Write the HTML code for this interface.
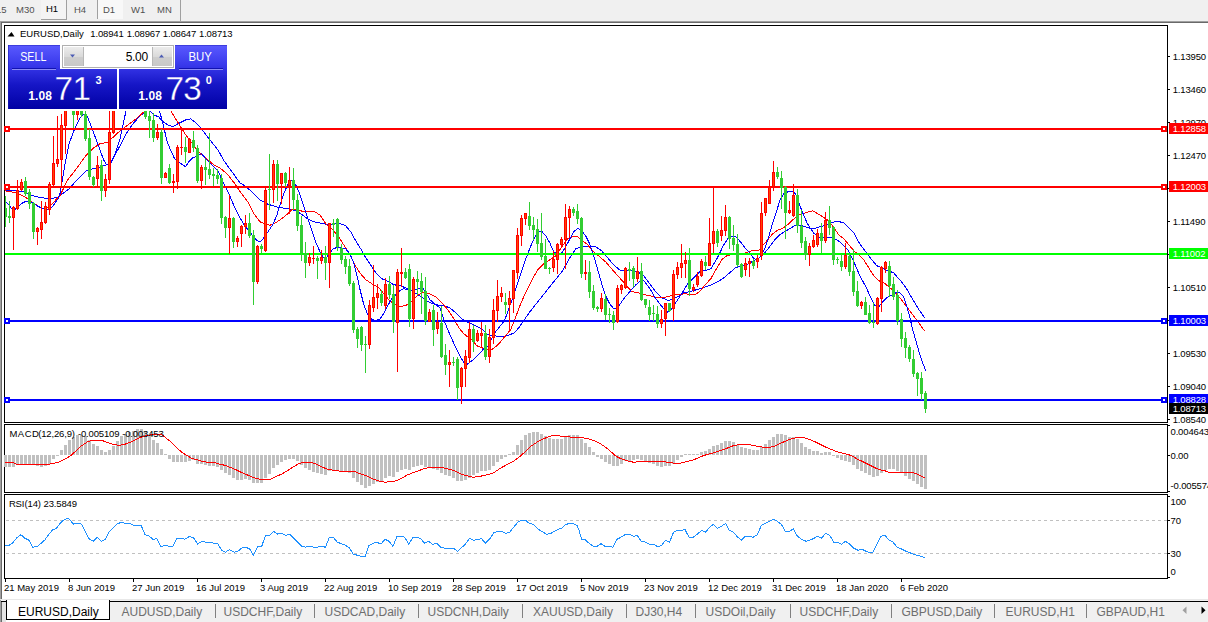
<!DOCTYPE html>
<html><head><meta charset="utf-8"><title>EURUSD,Daily</title>
<style>
html,body{margin:0;padding:0;}
body{width:1208px;height:622px;overflow:hidden;background:#fff;position:relative;font-family:"Liberation Sans",sans-serif;}
#root{position:absolute;left:0;top:0;width:1208px;height:622px;overflow:hidden;background:#fff;}
.abs{position:absolute;}
.t{position:absolute;white-space:nowrap;font-size:9.5px;line-height:12px;color:#000;letter-spacing:-0.15px;}
.tl{letter-spacing:0px;}
.tb{position:absolute;white-space:nowrap;font-size:9.5px;line-height:13px;color:#505050;top:3px;}
.tab{position:absolute;white-space:nowrap;font-size:12px;line-height:16px;color:#6e6e6e;top:604px;}
.sep{position:absolute;top:604px;width:1px;height:14px;background:#808080;}
.pl{position:absolute;left:1169px;width:39px;height:11px;color:#fff;font-size:9.5px;line-height:11px;letter-spacing:-0.15px;white-space:nowrap;overflow:hidden;}
.pl span{position:absolute;left:3.7px;top:0;}
</style></head><body><div id="root">

<div class="abs" style="left:0;top:0;width:1208px;height:21px;background:#f0f0f0;"></div>
<div class="abs" style="left:0;top:21px;width:1208px;height:1px;background:#a0a0a0;"></div>
<div class="abs" style="left:0;top:22px;width:1208px;height:1px;background:#696969;"></div>
<div class="abs" style="left:0;top:21px;width:1px;height:579px;background:#a0a0a0;"></div>
<div class="abs" style="left:1px;top:22px;width:1px;height:578px;background:#696969;"></div>
<div class="abs" style="left:41px;top:0;width:25px;height:19px;background:#f4f4f4;border-right:1px solid #a0a0a0;border-bottom:1px solid #a0a0a0;"></div>
<div class="abs" style="left:97px;top:0;width:1px;height:19px;background:#a0a0a0;"></div>
<div class="abs" style="left:98px;top:0;width:25px;height:19px;background:#f8f8f8;"></div>
<div class="abs" style="left:180px;top:0;width:1px;height:21px;background:#a0a0a0;"></div>
<div class="tb" style="left:-4px;">15</div>
<div class="tb" style="left:16px;">M30</div>
<div class="tb" style="left:46px;top:2px;color:#000;">H1</div>
<div class="tb" style="left:74px;">H4</div>
<div class="tb" style="left:103px;">D1</div>
<div class="tb" style="left:131px;">W1</div>
<div class="tb" style="left:157px;">MN</div>
<svg class="abs" style="left:0;top:0;" width="1208" height="622" viewBox="0 0 1208 622" shape-rendering="crispEdges">
<rect x="4.5" y="25.5" width="1163" height="397" fill="none" stroke="#000" stroke-width="1"/>
<rect x="4.5" y="424.5" width="1163" height="68" fill="none" stroke="#000" stroke-width="1"/>
<rect x="4.5" y="494.5" width="1163" height="84" fill="none" stroke="#000" stroke-width="1"/>
<rect x="1168" y="56" width="2" height="1" fill="#000"/>
<rect x="1168" y="89" width="2" height="1" fill="#000"/>
<rect x="1168" y="122" width="2" height="1" fill="#000"/>
<rect x="1168" y="155" width="2" height="1" fill="#000"/>
<rect x="1168" y="188" width="2" height="1" fill="#000"/>
<rect x="1168" y="221" width="2" height="1" fill="#000"/>
<rect x="1168" y="254" width="2" height="1" fill="#000"/>
<rect x="1168" y="287" width="2" height="1" fill="#000"/>
<rect x="1168" y="320" width="2" height="1" fill="#000"/>
<rect x="1168" y="353" width="2" height="1" fill="#000"/>
<rect x="1168" y="386" width="2" height="1" fill="#000"/>
<rect x="1168" y="419" width="2" height="1" fill="#000"/>
<rect x="1168" y="425" width="2" height="1" fill="#000"/>
<rect x="1168" y="455" width="2" height="1" fill="#000"/>
<rect x="1168" y="491" width="2" height="1" fill="#000"/>
<rect x="1168" y="496" width="2" height="1" fill="#000"/>
<rect x="1168" y="577" width="2" height="1" fill="#000"/>
<rect x="1168" y="520" width="2" height="1" fill="#000"/>
<rect x="1168" y="553" width="2" height="1" fill="#000"/>
<rect x="5" y="579" width="1" height="3" fill="#000"/>
<rect x="69" y="579" width="1" height="3" fill="#000"/>
<rect x="133" y="579" width="1" height="3" fill="#000"/>
<rect x="197" y="579" width="1" height="3" fill="#000"/>
<rect x="261" y="579" width="1" height="3" fill="#000"/>
<rect x="325" y="579" width="1" height="3" fill="#000"/>
<rect x="389" y="579" width="1" height="3" fill="#000"/>
<rect x="453" y="579" width="1" height="3" fill="#000"/>
<rect x="517" y="579" width="1" height="3" fill="#000"/>
<rect x="581" y="579" width="1" height="3" fill="#000"/>
<rect x="645" y="579" width="1" height="3" fill="#000"/>
<rect x="709" y="579" width="1" height="3" fill="#000"/>
<rect x="773" y="579" width="1" height="3" fill="#000"/>
<rect x="837" y="579" width="1" height="3" fill="#000"/>
<rect x="901" y="579" width="1" height="3" fill="#000"/>
<g clip-path="url(#mainclip)">
<defs><clipPath id="mainclip"><rect x="5" y="26" width="1162" height="396"/></clipPath></defs>
<polyline points="5,190.9 17,190.9 25,191.9 33,195.8 41,197.8 49,198.4 57,197.8 60,195.8 69,188.9 77,179.9 86,170.9 89,169.9 100,166.9 108,164.5 112,160.8 115.6,153.8 120,145.8 126,133.9 132,124.9 140,115.9 145,112 149,109.5 153.8,114.9 158.8,116.9 161.8,120.9 167.8,124.9 172.8,126.5 179.7,122.9 185.7,119.9 190.7,118.9 194.7,121.9 199.7,126.9 204.6,132.9 210,140 218,149.9 224,160.9 232,171.9 240,182.8 244.8,185.8 251.8,191.8 259.8,199.8 267.8,204.1 275.7,206.7 283.7,208.1 291.7,209.3 297.7,211.7 303.6,215.7 308,219 314,221.9 322,223.3 328,224.9 334.9,223.9 340.9,223.9 345.8,225.9 350.8,231.9 355.8,240.9 360.8,248.9 365.8,257.8 371.8,266.8 376.7,273.8 381.7,278.7 388.7,281.7 393.7,284.7 399.7,285.7 405.6,287.7 412,290.9 418,294.8 424,298.8 430,302.8 436,304.8 443.8,305.8 449.8,307.8 455.8,312.8 461.8,318.8 468.8,322.8 475.7,325.7 481.7,328.7 487.7,334.7 493.7,335.7 501.7,336.7 507.6,335.7 514.6,332.7 519.6,326.7 523,321.6 530,311.6 537.9,301.7 545.8,291.7 553.8,281.7 561.8,271.8 569.8,257.8 575.7,248.8 581.7,246.4 588.7,246.2 595.7,246.8 601.7,250.8 607.6,257.8 613.6,264.8 619.6,269.8 621.9,270.4 629.8,270.4 637.8,271.8 643.8,275.8 649.8,283.8 655.7,291.7 661.7,297.7 667.7,300.3 671.7,299.7 677.7,296.7 683.6,292.7 689.6,291.7 694.6,290.3 699.6,288.7 705,287 711,285 717,282 722.9,278.6 729.8,272.6 735.8,267.6 741.8,265.6 747.8,264.2 753.7,260.6 759.7,257.6 764.7,252.7 769.7,246.7 774.7,239.7 779.7,234.7 784.6,231.7 789.6,228.7 794.6,225.8 799.6,225.2 802,225.8 808,227.8 813,228.8 817.9,227.4 821.9,226.2 827.8,224.8 832.8,222.3 837.8,221.3 843.8,222.9 848.8,227.8 853.8,232.8 859.7,243.8 865.7,251.8 871.7,259.7 876.7,265.7 881.7,267.7 887.6,270.7 893.6,272.7 899.6,279.7 900.8,280.9 906.7,288.9 911.7,297.8 917.7,307.8 924.7,317.8" fill="none" stroke="#0000ff" stroke-width="1"/>
<polyline points="5,190.9 17,192.9 25,196.8 33,202.8 41,207.8 45,208.8 49,206.8 53,202.8 60,195.6 67.8,179.7 75.7,169.7 85.7,155.8 93.7,147.8 99.7,143.8 107.6,142.4 113.6,136.8 120,130.9 128,124.9 136,118.9 143.8,112 150,106 157,103 164,105 170.8,111 175.7,118.9 180.7,126.9 185.7,134.9 191.7,142.8 197.7,150.8 201.7,154.8 207.6,159.8 214,164.9 220,167.9 228,174.8 234.9,183.8 240.9,192.8 247.8,201.8 253.8,213.7 259.8,221.7 264.8,223.7 269.8,225.3 275.7,222.7 281.7,218.7 287.7,213.7 291.7,209.7 297.7,209.7 303.6,211.7 309.6,211.7 315,212 320,215 325.9,223.9 331.9,228.9 337.9,235.9 343.8,244.9 349.8,254.8 354.8,264.8 359.8,272.8 365.8,279.7 371.8,283.7 378.7,287.7 383.7,293.7 388.7,299.7 393.7,303.7 399.7,306.3 405.6,305.7 412,300.8 418,294.8 424,292.3 430,293.9 436,296.8 441.9,302.8 447.8,309.8 453.8,318.8 458.8,327.7 463.8,333.7 468.8,337.7 472.8,340.7 476.7,345.7 481.7,347.7 486.7,349.7 491.7,349.7 495.7,346.7 500.7,341.7 505.6,335.7 510.6,329.7 514.6,319.8 520,305.6 526,291.7 532,279.7 537.9,269.8 543.8,263.8 549.8,259.8 555.8,255.8 561.8,246.8 567.8,238.9 572.8,236.3 576.7,236.3 581.7,239.9 587.7,244.8 593.7,251.8 599.7,256.8 605.6,261.8 611.6,268.8 619.6,277.7 625.8,284.8 631.8,291.7 637.8,292.7 643.8,294.7 649.8,295.7 655.7,297.1 661.7,297.7 667.7,296.7 673.7,295.1 679.7,294.3 685.6,293.7 690.6,294.7 694.6,294.7 699.6,291.7 705,285 710.9,278.6 715.9,269.6 721.9,259.6 726.8,255.7 731.8,254.7 737.8,254.7 743.8,253.7 748.8,251.7 753.7,250.3 758.7,250.3 762.7,245.7 767.7,239.7 772.7,233.7 777.7,230.3 782.6,228.3 787.6,224.8 791.6,220.8 795.6,217.8 799.6,214.8 802,213.9 808,211.9 813,210.9 817.9,213.9 822.9,216.9 828.8,220.9 833.8,227.8 838.8,234.8 843.8,238.8 848.8,244.8 853.8,250.8 858.7,254.7 863.7,259.7 868.7,267.7 873.7,275.7 878.7,280.7 883.6,282.6 888.6,286.6 895.8,292.9 900.8,298.8 906.7,306.8 912.7,314.8 918.7,322.8 924.7,331.3" fill="none" stroke="#ff0000" stroke-width="1"/>
<polyline points="5,200.8 9,204.8 13,210.8 17,207.8 21,203.8 25,201.8 29,201.4 33,202.8 37,205.8 41,207.8 45,208.8 49,209.8 53,205.8 58,198.8 60,193.6 64,169.7 69,143.8 75,127.9 80,117.9 84,113.9 86.7,114.9 90.7,124.9 97.7,143.8 103.6,159.8 106.6,164.7 110.6,163.7 115.6,152.8 120,138.8 126,111 132,95 142,85 152,92 159.8,112 163.8,126.9 166.8,140.8 170.8,150.8 174.7,158.8 179.7,162.8 185.7,166.8 188.7,161.8 192.7,157.8 197.7,155.8 201.7,153.8 206,158.9 212,164.9 218,170.9 222,179.8 228,191.8 234,205.7 240,217.7 244.8,225.7 249.8,231.7 254.8,238.6 258.8,241.6 261.8,240.6 266.8,233.6 272.8,224.7 276.7,215.7 279.7,205.7 283.7,193.8 287.7,184.8 291.7,180.2 295.7,184.8 299.7,193.8 303.6,205.7 308,219 312,230.9 316,242.9 320,251.8 322.9,257.2 326.9,257.2 329.9,252.8 332.9,248.9 336.9,247.5 340.9,247.9 345.8,248.9 349.8,253.8 353.8,262.8 356.8,274.8 359.8,288.7 363.8,304.7 367.8,314.6 371.8,319.6 375.7,320.2 379.7,319.6 383.7,313.6 387.7,305.7 391.7,298.7 395.7,294.7 399.7,290.7 403.6,288.7 408.6,289.7 413.6,290.7 418,289 422,286.9 426,292.9 430,299.8 436,304.8 440,307.8 443.8,319.8 447.8,329.7 451.8,338.7 455.8,347.7 459.8,355.6 463.8,362.6 466.8,364.6 470.8,361.6 474.7,358.6 479.7,353.6 483.7,348.7 487.7,346.7 491.7,338.7 495.7,331.7 499.7,326.7 503.6,321.8 506,316.6 512,299.7 518,281.7 524,263.8 530,247.8 534.9,236.9 538.9,231.9 541.9,231.5 545.8,235.9 549.8,242.9 553.8,251.8 557.8,254.8 561.8,252.8 565.8,246.8 569.8,238.9 573.7,231.9 577.7,228.3 581.7,230.9 585.7,235.9 589.7,243.9 593.7,255.8 597.7,269.8 601.7,283.7 605.6,295.7 609.6,303.6 613.6,308.6 617.6,307.6 618.9,305.7 623.8,298.7 629.8,291.7 635.8,284.8 640.8,280.8 643.8,280.8 647.8,285.8 651.8,291.7 655.7,298.7 659.7,303.7 663.7,308.7 667.7,312.3 671.7,308.7 675.7,302.7 679.7,296.7 683.6,290.7 687.6,283.8 691.6,279.8 695.6,275.8 700,271.6 706,270.2 710.9,268.6 715.9,260.6 719.9,252.7 723.8,244.7 727.8,238.7 731.8,236.3 736.8,237.1 741.8,243.7 745.8,248.7 749.8,252.7 753.7,258.6 757.7,259.6 761.7,254.7 764.7,248.7 768.7,236.7 772.7,222.8 776.7,210.8 779.7,200.8 783.6,193.9 787.6,191.9 792.6,191.3 795.6,193.9 800,205.9 804,215.9 807,222.9 810,227.8 814,233.4 820,237.8 823.8,237.8 827.8,237.4 832.8,237.8 836.8,239.8 839.8,241.8 843.8,245.8 847.9,250 853.9,262 859.9,275.9 865.9,286.9 870.9,297.8 874.8,305.8 878.8,306.8 882.8,301.8 886.8,297.8 890.8,295.8 895.8,292.9 899.8,292.9 903.7,296.8 906.7,305.8 909.7,316.8 912.7,329.7 916.7,343.7 920.7,357.6 925.7,370.6" fill="none" stroke="#0000ff" stroke-width="1"/>
<rect x="5" y="128" width="1162" height="2" fill="#ff0000"/>
<rect x="5" y="186" width="1162" height="2" fill="#ff0000"/>
<rect x="5" y="253" width="1162" height="2" fill="#00ff00"/>
<rect x="5" y="320" width="1162" height="2" fill="#0000ff"/>
<rect x="5" y="399" width="1162" height="2" fill="#0000ff"/>
<rect x="5" y="196" width="1" height="31" fill="#32cd32"/>
<rect x="4" y="208" width="3" height="9" fill="#32cd32"/>
<rect x="9" y="201" width="1" height="22" fill="#32cd32"/>
<rect x="8" y="216" width="3" height="2" fill="#32cd32"/>
<rect x="13" y="206" width="1" height="44" fill="#ff0000"/>
<rect x="12" y="207" width="3" height="11" fill="#ff0000"/>
<rect x="13" y="208" width="1" height="9" fill="#ff4500"/>
<rect x="17" y="180" width="1" height="30" fill="#ff0000"/>
<rect x="16" y="190" width="3" height="19" fill="#ff0000"/>
<rect x="17" y="191" width="1" height="17" fill="#ff4500"/>
<rect x="21" y="179" width="1" height="12" fill="#ff0000"/>
<rect x="20" y="182" width="3" height="8" fill="#ff0000"/>
<rect x="21" y="183" width="1" height="6" fill="#ff4500"/>
<rect x="25" y="177" width="1" height="19" fill="#32cd32"/>
<rect x="24" y="181" width="3" height="13" fill="#32cd32"/>
<rect x="29" y="189" width="1" height="20" fill="#32cd32"/>
<rect x="28" y="192" width="3" height="12" fill="#32cd32"/>
<rect x="33" y="202" width="1" height="37" fill="#32cd32"/>
<rect x="32" y="203" width="3" height="29" fill="#32cd32"/>
<rect x="37" y="227" width="1" height="18" fill="#ff0000"/>
<rect x="36" y="228" width="3" height="4" fill="#ff0000"/>
<rect x="37" y="229" width="1" height="2" fill="#ff4500"/>
<rect x="41" y="201" width="1" height="38" fill="#ff0000"/>
<rect x="40" y="222" width="3" height="8" fill="#ff0000"/>
<rect x="41" y="223" width="1" height="6" fill="#ff4500"/>
<rect x="45" y="202" width="1" height="22" fill="#ff0000"/>
<rect x="44" y="206" width="3" height="17" fill="#ff0000"/>
<rect x="45" y="207" width="1" height="15" fill="#ff4500"/>
<rect x="49" y="182" width="1" height="33" fill="#ff0000"/>
<rect x="48" y="184" width="3" height="26" fill="#ff0000"/>
<rect x="49" y="185" width="1" height="24" fill="#ff4500"/>
<rect x="53" y="136" width="1" height="50" fill="#ff0000"/>
<rect x="52" y="163" width="3" height="22" fill="#ff0000"/>
<rect x="53" y="164" width="1" height="20" fill="#ff4500"/>
<rect x="57" y="116" width="1" height="51" fill="#ff0000"/>
<rect x="56" y="159" width="3" height="5" fill="#ff0000"/>
<rect x="57" y="160" width="1" height="3" fill="#ff4500"/>
<rect x="61" y="114" width="1" height="74" fill="#ff0000"/>
<rect x="60" y="125" width="3" height="35" fill="#ff0000"/>
<rect x="61" y="126" width="1" height="33" fill="#ff4500"/>
<rect x="65" y="100" width="1" height="54" fill="#ff0000"/>
<rect x="64" y="100" width="3" height="26" fill="#ff0000"/>
<rect x="65" y="101" width="1" height="24" fill="#ff4500"/>
<rect x="73" y="100" width="1" height="28" fill="#32cd32"/>
<rect x="72" y="100" width="3" height="15" fill="#32cd32"/>
<rect x="77" y="100" width="1" height="20" fill="#ff0000"/>
<rect x="76" y="100" width="3" height="15" fill="#ff0000"/>
<rect x="77" y="101" width="1" height="13" fill="#ff4500"/>
<rect x="81" y="100" width="1" height="17" fill="#32cd32"/>
<rect x="80" y="100" width="3" height="15" fill="#32cd32"/>
<rect x="85" y="105" width="1" height="36" fill="#32cd32"/>
<rect x="84" y="114" width="3" height="25" fill="#32cd32"/>
<rect x="89" y="129" width="1" height="51" fill="#32cd32"/>
<rect x="88" y="138" width="3" height="39" fill="#32cd32"/>
<rect x="93" y="176" width="1" height="11" fill="#32cd32"/>
<rect x="92" y="177" width="3" height="8" fill="#32cd32"/>
<rect x="97" y="156" width="1" height="32" fill="#ff0000"/>
<rect x="96" y="165" width="3" height="14" fill="#ff0000"/>
<rect x="97" y="166" width="1" height="12" fill="#ff4500"/>
<rect x="101" y="160" width="1" height="41" fill="#32cd32"/>
<rect x="100" y="165" width="3" height="26" fill="#32cd32"/>
<rect x="105" y="174" width="1" height="23" fill="#ff0000"/>
<rect x="104" y="179" width="3" height="12" fill="#ff0000"/>
<rect x="105" y="180" width="1" height="10" fill="#ff4500"/>
<rect x="109" y="105" width="1" height="79" fill="#ff0000"/>
<rect x="108" y="132" width="3" height="48" fill="#ff0000"/>
<rect x="109" y="133" width="1" height="46" fill="#ff4500"/>
<rect x="113" y="90" width="1" height="44" fill="#ff0000"/>
<rect x="112" y="90" width="3" height="43" fill="#ff0000"/>
<rect x="113" y="91" width="1" height="41" fill="#ff4500"/>
<rect x="145" y="100" width="1" height="19" fill="#32cd32"/>
<rect x="144" y="100" width="3" height="17" fill="#32cd32"/>
<rect x="149" y="100" width="1" height="38" fill="#32cd32"/>
<rect x="148" y="116" width="3" height="5" fill="#32cd32"/>
<rect x="153" y="113" width="1" height="29" fill="#32cd32"/>
<rect x="152" y="120" width="3" height="18" fill="#32cd32"/>
<rect x="157" y="124" width="1" height="16" fill="#ff0000"/>
<rect x="156" y="132" width="3" height="6" fill="#ff0000"/>
<rect x="157" y="133" width="1" height="4" fill="#ff4500"/>
<rect x="161" y="129" width="1" height="55" fill="#32cd32"/>
<rect x="160" y="132" width="3" height="46" fill="#32cd32"/>
<rect x="165" y="172" width="1" height="6" fill="#ff0000"/>
<rect x="164" y="173" width="3" height="5" fill="#ff0000"/>
<rect x="165" y="174" width="1" height="3" fill="#ff4500"/>
<rect x="169" y="164" width="1" height="20" fill="#32cd32"/>
<rect x="168" y="168" width="3" height="15" fill="#32cd32"/>
<rect x="173" y="174" width="1" height="19" fill="#ff0000"/>
<rect x="172" y="181" width="3" height="2" fill="#ff0000"/>
<rect x="177" y="145" width="1" height="44" fill="#ff0000"/>
<rect x="176" y="147" width="3" height="35" fill="#ff0000"/>
<rect x="177" y="148" width="1" height="33" fill="#ff4500"/>
<rect x="181" y="128" width="1" height="27" fill="#ff0000"/>
<rect x="180" y="147" width="3" height="1" fill="#ff0000"/>
<rect x="185" y="137" width="1" height="26" fill="#32cd32"/>
<rect x="184" y="147" width="3" height="5" fill="#32cd32"/>
<rect x="189" y="138" width="1" height="15" fill="#ff0000"/>
<rect x="188" y="139" width="3" height="14" fill="#ff0000"/>
<rect x="189" y="140" width="1" height="12" fill="#ff4500"/>
<rect x="193" y="131" width="1" height="21" fill="#32cd32"/>
<rect x="192" y="140" width="3" height="8" fill="#32cd32"/>
<rect x="197" y="145" width="1" height="38" fill="#32cd32"/>
<rect x="196" y="148" width="3" height="33" fill="#32cd32"/>
<rect x="201" y="165" width="1" height="24" fill="#ff0000"/>
<rect x="200" y="167" width="3" height="14" fill="#ff0000"/>
<rect x="201" y="168" width="1" height="12" fill="#ff4500"/>
<rect x="205" y="159" width="1" height="26" fill="#32cd32"/>
<rect x="204" y="167" width="3" height="3" fill="#32cd32"/>
<rect x="209" y="133" width="1" height="46" fill="#32cd32"/>
<rect x="208" y="169" width="3" height="6" fill="#32cd32"/>
<rect x="213" y="168" width="1" height="18" fill="#32cd32"/>
<rect x="212" y="174" width="3" height="2" fill="#32cd32"/>
<rect x="217" y="169" width="1" height="15" fill="#32cd32"/>
<rect x="216" y="175" width="3" height="4" fill="#32cd32"/>
<rect x="221" y="174" width="1" height="50" fill="#32cd32"/>
<rect x="220" y="178" width="3" height="40" fill="#32cd32"/>
<rect x="225" y="216" width="1" height="22" fill="#32cd32"/>
<rect x="224" y="217" width="3" height="11" fill="#32cd32"/>
<rect x="229" y="195" width="1" height="59" fill="#ff0000"/>
<rect x="228" y="218" width="3" height="10" fill="#ff0000"/>
<rect x="229" y="219" width="1" height="8" fill="#ff4500"/>
<rect x="233" y="217" width="1" height="31" fill="#32cd32"/>
<rect x="232" y="218" width="3" height="24" fill="#32cd32"/>
<rect x="237" y="236" width="1" height="11" fill="#ff0000"/>
<rect x="236" y="238" width="3" height="4" fill="#ff0000"/>
<rect x="237" y="239" width="1" height="2" fill="#ff4500"/>
<rect x="241" y="225" width="1" height="22" fill="#ff0000"/>
<rect x="240" y="226" width="3" height="8" fill="#ff0000"/>
<rect x="241" y="227" width="1" height="6" fill="#ff4500"/>
<rect x="245" y="215" width="1" height="19" fill="#ff0000"/>
<rect x="244" y="223" width="3" height="4" fill="#ff0000"/>
<rect x="245" y="224" width="1" height="2" fill="#ff4500"/>
<rect x="249" y="213" width="1" height="25" fill="#32cd32"/>
<rect x="248" y="223" width="3" height="13" fill="#32cd32"/>
<rect x="253" y="230" width="1" height="75" fill="#32cd32"/>
<rect x="252" y="235" width="3" height="47" fill="#32cd32"/>
<rect x="257" y="245" width="1" height="39" fill="#ff0000"/>
<rect x="256" y="246" width="3" height="36" fill="#ff0000"/>
<rect x="257" y="247" width="1" height="34" fill="#ff4500"/>
<rect x="261" y="244" width="1" height="9" fill="#32cd32"/>
<rect x="260" y="246" width="3" height="3" fill="#32cd32"/>
<rect x="265" y="188" width="1" height="64" fill="#ff0000"/>
<rect x="264" y="190" width="3" height="61" fill="#ff0000"/>
<rect x="265" y="191" width="1" height="59" fill="#ff4500"/>
<rect x="269" y="154" width="1" height="56" fill="#32cd32"/>
<rect x="268" y="189" width="3" height="1" fill="#32cd32"/>
<rect x="273" y="160" width="1" height="43" fill="#ff0000"/>
<rect x="272" y="164" width="3" height="26" fill="#ff0000"/>
<rect x="273" y="165" width="1" height="24" fill="#ff4500"/>
<rect x="277" y="160" width="1" height="41" fill="#32cd32"/>
<rect x="276" y="164" width="3" height="20" fill="#32cd32"/>
<rect x="281" y="173" width="1" height="31" fill="#ff0000"/>
<rect x="280" y="173" width="3" height="11" fill="#ff0000"/>
<rect x="281" y="174" width="1" height="9" fill="#ff4500"/>
<rect x="285" y="172" width="1" height="15" fill="#32cd32"/>
<rect x="284" y="173" width="3" height="10" fill="#32cd32"/>
<rect x="289" y="167" width="1" height="47" fill="#ff0000"/>
<rect x="288" y="180" width="3" height="6" fill="#ff0000"/>
<rect x="289" y="181" width="1" height="4" fill="#ff4500"/>
<rect x="293" y="168" width="1" height="42" fill="#32cd32"/>
<rect x="292" y="180" width="3" height="20" fill="#32cd32"/>
<rect x="297" y="194" width="1" height="37" fill="#32cd32"/>
<rect x="296" y="200" width="3" height="26" fill="#32cd32"/>
<rect x="301" y="216" width="1" height="45" fill="#32cd32"/>
<rect x="300" y="225" width="3" height="28" fill="#32cd32"/>
<rect x="305" y="242" width="1" height="36" fill="#32cd32"/>
<rect x="304" y="253" width="3" height="10" fill="#32cd32"/>
<rect x="309" y="253" width="1" height="13" fill="#ff0000"/>
<rect x="308" y="257" width="3" height="6" fill="#ff0000"/>
<rect x="309" y="258" width="1" height="4" fill="#ff4500"/>
<rect x="313" y="246" width="1" height="18" fill="#ff0000"/>
<rect x="312" y="258" width="3" height="1" fill="#ff0000"/>
<rect x="317" y="256" width="1" height="23" fill="#32cd32"/>
<rect x="316" y="258" width="3" height="3" fill="#32cd32"/>
<rect x="321" y="250" width="1" height="14" fill="#ff0000"/>
<rect x="320" y="257" width="3" height="4" fill="#ff0000"/>
<rect x="321" y="258" width="1" height="2" fill="#ff4500"/>
<rect x="325" y="246" width="1" height="34" fill="#32cd32"/>
<rect x="324" y="257" width="3" height="6" fill="#32cd32"/>
<rect x="329" y="223" width="1" height="65" fill="#ff0000"/>
<rect x="328" y="223" width="3" height="40" fill="#ff0000"/>
<rect x="329" y="224" width="1" height="38" fill="#ff4500"/>
<rect x="333" y="219" width="1" height="18" fill="#32cd32"/>
<rect x="332" y="223" width="3" height="2" fill="#32cd32"/>
<rect x="337" y="218" width="1" height="33" fill="#32cd32"/>
<rect x="336" y="219" width="3" height="28" fill="#32cd32"/>
<rect x="341" y="244" width="1" height="20" fill="#32cd32"/>
<rect x="340" y="248" width="3" height="12" fill="#32cd32"/>
<rect x="345" y="256" width="1" height="18" fill="#32cd32"/>
<rect x="344" y="259" width="3" height="8" fill="#32cd32"/>
<rect x="349" y="259" width="1" height="27" fill="#32cd32"/>
<rect x="348" y="266" width="3" height="18" fill="#32cd32"/>
<rect x="353" y="281" width="1" height="52" fill="#32cd32"/>
<rect x="352" y="283" width="3" height="47" fill="#32cd32"/>
<rect x="357" y="327" width="1" height="21" fill="#32cd32"/>
<rect x="356" y="329" width="3" height="10" fill="#32cd32"/>
<rect x="361" y="326" width="1" height="25" fill="#32cd32"/>
<rect x="360" y="327" width="3" height="18" fill="#32cd32"/>
<rect x="365" y="336" width="1" height="37" fill="#32cd32"/>
<rect x="364" y="344" width="3" height="1" fill="#32cd32"/>
<rect x="369" y="300" width="1" height="49" fill="#ff0000"/>
<rect x="368" y="305" width="3" height="40" fill="#ff0000"/>
<rect x="369" y="306" width="1" height="38" fill="#ff4500"/>
<rect x="373" y="265" width="1" height="47" fill="#ff0000"/>
<rect x="372" y="297" width="3" height="11" fill="#ff0000"/>
<rect x="373" y="298" width="1" height="9" fill="#ff4500"/>
<rect x="377" y="284" width="1" height="25" fill="#ff0000"/>
<rect x="376" y="293" width="3" height="5" fill="#ff0000"/>
<rect x="377" y="294" width="1" height="3" fill="#ff4500"/>
<rect x="381" y="290" width="1" height="16" fill="#32cd32"/>
<rect x="380" y="294" width="3" height="9" fill="#32cd32"/>
<rect x="385" y="278" width="1" height="31" fill="#ff0000"/>
<rect x="384" y="284" width="3" height="22" fill="#ff0000"/>
<rect x="385" y="285" width="1" height="20" fill="#ff4500"/>
<rect x="389" y="276" width="1" height="23" fill="#32cd32"/>
<rect x="388" y="284" width="3" height="11" fill="#32cd32"/>
<rect x="393" y="285" width="1" height="48" fill="#32cd32"/>
<rect x="392" y="294" width="3" height="28" fill="#32cd32"/>
<rect x="397" y="269" width="1" height="103" fill="#ff0000"/>
<rect x="396" y="272" width="3" height="51" fill="#ff0000"/>
<rect x="397" y="273" width="1" height="49" fill="#ff4500"/>
<rect x="401" y="248" width="1" height="39" fill="#ff0000"/>
<rect x="400" y="272" width="3" height="2" fill="#ff0000"/>
<rect x="405" y="268" width="1" height="11" fill="#32cd32"/>
<rect x="404" y="272" width="3" height="6" fill="#32cd32"/>
<rect x="409" y="264" width="1" height="63" fill="#32cd32"/>
<rect x="408" y="269" width="3" height="50" fill="#32cd32"/>
<rect x="413" y="277" width="1" height="52" fill="#ff0000"/>
<rect x="412" y="279" width="3" height="40" fill="#ff0000"/>
<rect x="413" y="280" width="1" height="38" fill="#ff4500"/>
<rect x="417" y="271" width="1" height="24" fill="#32cd32"/>
<rect x="416" y="279" width="3" height="3" fill="#32cd32"/>
<rect x="421" y="273" width="1" height="41" fill="#32cd32"/>
<rect x="420" y="281" width="3" height="11" fill="#32cd32"/>
<rect x="425" y="277" width="1" height="48" fill="#32cd32"/>
<rect x="424" y="291" width="3" height="30" fill="#32cd32"/>
<rect x="429" y="309" width="1" height="13" fill="#ff0000"/>
<rect x="428" y="312" width="3" height="10" fill="#ff0000"/>
<rect x="429" y="313" width="1" height="8" fill="#ff4500"/>
<rect x="433" y="305" width="1" height="41" fill="#32cd32"/>
<rect x="432" y="310" width="3" height="20" fill="#32cd32"/>
<rect x="437" y="312" width="1" height="22" fill="#ff0000"/>
<rect x="436" y="322" width="3" height="7" fill="#ff0000"/>
<rect x="437" y="323" width="1" height="5" fill="#ff4500"/>
<rect x="441" y="306" width="1" height="52" fill="#32cd32"/>
<rect x="440" y="323" width="3" height="34" fill="#32cd32"/>
<rect x="445" y="344" width="1" height="31" fill="#32cd32"/>
<rect x="444" y="355" width="3" height="10" fill="#32cd32"/>
<rect x="449" y="350" width="1" height="37" fill="#ff0000"/>
<rect x="448" y="362" width="3" height="3" fill="#ff0000"/>
<rect x="449" y="363" width="1" height="1" fill="#ff4500"/>
<rect x="453" y="357" width="1" height="9" fill="#32cd32"/>
<rect x="452" y="362" width="3" height="1" fill="#32cd32"/>
<rect x="457" y="357" width="1" height="43" fill="#32cd32"/>
<rect x="456" y="359" width="3" height="29" fill="#32cd32"/>
<rect x="461" y="367" width="1" height="37" fill="#ff0000"/>
<rect x="460" y="368" width="3" height="19" fill="#ff0000"/>
<rect x="461" y="369" width="1" height="17" fill="#ff4500"/>
<rect x="465" y="350" width="1" height="37" fill="#ff0000"/>
<rect x="464" y="356" width="3" height="13" fill="#ff0000"/>
<rect x="465" y="357" width="1" height="11" fill="#ff4500"/>
<rect x="469" y="322" width="1" height="41" fill="#ff0000"/>
<rect x="468" y="329" width="3" height="29" fill="#ff0000"/>
<rect x="469" y="330" width="1" height="27" fill="#ff4500"/>
<rect x="473" y="325" width="1" height="27" fill="#32cd32"/>
<rect x="472" y="329" width="3" height="13" fill="#32cd32"/>
<rect x="477" y="330" width="1" height="12" fill="#ff0000"/>
<rect x="476" y="333" width="3" height="8" fill="#ff0000"/>
<rect x="477" y="334" width="1" height="6" fill="#ff4500"/>
<rect x="481" y="322" width="1" height="25" fill="#ff0000"/>
<rect x="480" y="333" width="3" height="3" fill="#ff0000"/>
<rect x="481" y="334" width="1" height="1" fill="#ff4500"/>
<rect x="485" y="325" width="1" height="35" fill="#32cd32"/>
<rect x="484" y="333" width="3" height="24" fill="#32cd32"/>
<rect x="489" y="329" width="1" height="34" fill="#ff0000"/>
<rect x="488" y="337" width="3" height="20" fill="#ff0000"/>
<rect x="489" y="338" width="1" height="18" fill="#ff4500"/>
<rect x="493" y="299" width="1" height="45" fill="#ff0000"/>
<rect x="492" y="310" width="3" height="28" fill="#ff0000"/>
<rect x="493" y="311" width="1" height="26" fill="#ff4500"/>
<rect x="497" y="280" width="1" height="42" fill="#ff0000"/>
<rect x="496" y="296" width="3" height="15" fill="#ff0000"/>
<rect x="497" y="297" width="1" height="13" fill="#ff4500"/>
<rect x="501" y="287" width="1" height="15" fill="#ff0000"/>
<rect x="500" y="293" width="3" height="4" fill="#ff0000"/>
<rect x="501" y="294" width="1" height="2" fill="#ff4500"/>
<rect x="505" y="293" width="1" height="21" fill="#32cd32"/>
<rect x="504" y="302" width="3" height="3" fill="#32cd32"/>
<rect x="509" y="291" width="1" height="39" fill="#ff0000"/>
<rect x="508" y="298" width="3" height="7" fill="#ff0000"/>
<rect x="509" y="299" width="1" height="5" fill="#ff4500"/>
<rect x="513" y="270" width="1" height="43" fill="#ff0000"/>
<rect x="512" y="270" width="3" height="29" fill="#ff0000"/>
<rect x="513" y="271" width="1" height="27" fill="#ff4500"/>
<rect x="517" y="228" width="1" height="51" fill="#ff0000"/>
<rect x="516" y="235" width="3" height="38" fill="#ff0000"/>
<rect x="517" y="236" width="1" height="36" fill="#ff4500"/>
<rect x="521" y="215" width="1" height="31" fill="#ff0000"/>
<rect x="520" y="218" width="3" height="18" fill="#ff0000"/>
<rect x="521" y="219" width="1" height="16" fill="#ff4500"/>
<rect x="525" y="213" width="1" height="12" fill="#ff0000"/>
<rect x="524" y="213" width="3" height="6" fill="#ff0000"/>
<rect x="525" y="214" width="1" height="4" fill="#ff4500"/>
<rect x="529" y="202" width="1" height="28" fill="#32cd32"/>
<rect x="528" y="216" width="3" height="10" fill="#32cd32"/>
<rect x="533" y="217" width="1" height="23" fill="#32cd32"/>
<rect x="532" y="225" width="3" height="5" fill="#32cd32"/>
<rect x="537" y="219" width="1" height="33" fill="#32cd32"/>
<rect x="536" y="229" width="3" height="15" fill="#32cd32"/>
<rect x="541" y="213" width="1" height="47" fill="#32cd32"/>
<rect x="540" y="243" width="3" height="14" fill="#32cd32"/>
<rect x="545" y="239" width="1" height="30" fill="#32cd32"/>
<rect x="544" y="256" width="3" height="13" fill="#32cd32"/>
<rect x="549" y="267" width="1" height="7" fill="#32cd32"/>
<rect x="548" y="268" width="3" height="1" fill="#32cd32"/>
<rect x="553" y="251" width="1" height="21" fill="#ff0000"/>
<rect x="552" y="259" width="3" height="9" fill="#ff0000"/>
<rect x="553" y="260" width="1" height="7" fill="#ff4500"/>
<rect x="557" y="243" width="1" height="31" fill="#ff0000"/>
<rect x="556" y="244" width="3" height="16" fill="#ff0000"/>
<rect x="557" y="245" width="1" height="14" fill="#ff4500"/>
<rect x="561" y="237" width="1" height="11" fill="#ff0000"/>
<rect x="560" y="239" width="3" height="6" fill="#ff0000"/>
<rect x="561" y="240" width="1" height="4" fill="#ff4500"/>
<rect x="565" y="204" width="1" height="65" fill="#ff0000"/>
<rect x="564" y="217" width="3" height="23" fill="#ff0000"/>
<rect x="565" y="218" width="1" height="21" fill="#ff4500"/>
<rect x="569" y="206" width="1" height="32" fill="#ff0000"/>
<rect x="568" y="209" width="3" height="9" fill="#ff0000"/>
<rect x="569" y="210" width="1" height="7" fill="#ff4500"/>
<rect x="573" y="207" width="1" height="9" fill="#32cd32"/>
<rect x="572" y="209" width="3" height="4" fill="#32cd32"/>
<rect x="577" y="204" width="1" height="20" fill="#32cd32"/>
<rect x="576" y="211" width="3" height="8" fill="#32cd32"/>
<rect x="581" y="217" width="1" height="61" fill="#32cd32"/>
<rect x="580" y="218" width="3" height="56" fill="#32cd32"/>
<rect x="585" y="260" width="1" height="20" fill="#ff0000"/>
<rect x="584" y="272" width="3" height="2" fill="#ff0000"/>
<rect x="589" y="261" width="1" height="37" fill="#32cd32"/>
<rect x="588" y="272" width="3" height="20" fill="#32cd32"/>
<rect x="593" y="285" width="1" height="25" fill="#32cd32"/>
<rect x="592" y="291" width="3" height="17" fill="#32cd32"/>
<rect x="597" y="306" width="1" height="6" fill="#32cd32"/>
<rect x="596" y="307" width="3" height="2" fill="#32cd32"/>
<rect x="601" y="293" width="1" height="19" fill="#ff0000"/>
<rect x="600" y="298" width="3" height="11" fill="#ff0000"/>
<rect x="601" y="299" width="1" height="9" fill="#ff4500"/>
<rect x="605" y="294" width="1" height="26" fill="#32cd32"/>
<rect x="604" y="299" width="3" height="16" fill="#32cd32"/>
<rect x="609" y="308" width="1" height="15" fill="#32cd32"/>
<rect x="608" y="314" width="3" height="1" fill="#32cd32"/>
<rect x="613" y="311" width="1" height="19" fill="#32cd32"/>
<rect x="612" y="315" width="3" height="8" fill="#32cd32"/>
<rect x="617" y="285" width="1" height="38" fill="#ff0000"/>
<rect x="616" y="288" width="3" height="34" fill="#ff0000"/>
<rect x="617" y="289" width="1" height="32" fill="#ff4500"/>
<rect x="621" y="284" width="1" height="10" fill="#ff0000"/>
<rect x="620" y="285" width="3" height="5" fill="#ff0000"/>
<rect x="621" y="286" width="1" height="3" fill="#ff4500"/>
<rect x="625" y="267" width="1" height="22" fill="#ff0000"/>
<rect x="624" y="268" width="3" height="20" fill="#ff0000"/>
<rect x="625" y="269" width="1" height="18" fill="#ff4500"/>
<rect x="629" y="262" width="1" height="19" fill="#32cd32"/>
<rect x="628" y="269" width="3" height="2" fill="#32cd32"/>
<rect x="633" y="266" width="1" height="21" fill="#32cd32"/>
<rect x="632" y="268" width="3" height="11" fill="#32cd32"/>
<rect x="637" y="257" width="1" height="25" fill="#ff0000"/>
<rect x="636" y="271" width="3" height="8" fill="#ff0000"/>
<rect x="637" y="272" width="1" height="6" fill="#ff4500"/>
<rect x="641" y="263" width="1" height="38" fill="#32cd32"/>
<rect x="640" y="271" width="3" height="29" fill="#32cd32"/>
<rect x="645" y="299" width="1" height="9" fill="#32cd32"/>
<rect x="644" y="299" width="3" height="6" fill="#32cd32"/>
<rect x="649" y="300" width="1" height="21" fill="#32cd32"/>
<rect x="648" y="307" width="3" height="8" fill="#32cd32"/>
<rect x="653" y="305" width="1" height="16" fill="#32cd32"/>
<rect x="652" y="313" width="3" height="1" fill="#32cd32"/>
<rect x="657" y="306" width="1" height="22" fill="#32cd32"/>
<rect x="656" y="314" width="3" height="10" fill="#32cd32"/>
<rect x="661" y="310" width="1" height="18" fill="#ff0000"/>
<rect x="660" y="319" width="3" height="5" fill="#ff0000"/>
<rect x="661" y="320" width="1" height="3" fill="#ff4500"/>
<rect x="665" y="303" width="1" height="33" fill="#ff0000"/>
<rect x="664" y="303" width="3" height="16" fill="#ff0000"/>
<rect x="665" y="304" width="1" height="14" fill="#ff4500"/>
<rect x="669" y="303" width="1" height="9" fill="#32cd32"/>
<rect x="668" y="303" width="3" height="8" fill="#32cd32"/>
<rect x="673" y="270" width="1" height="51" fill="#ff0000"/>
<rect x="672" y="274" width="3" height="35" fill="#ff0000"/>
<rect x="673" y="275" width="1" height="33" fill="#ff4500"/>
<rect x="677" y="262" width="1" height="17" fill="#ff0000"/>
<rect x="676" y="267" width="3" height="8" fill="#ff0000"/>
<rect x="677" y="268" width="1" height="6" fill="#ff4500"/>
<rect x="681" y="244" width="1" height="34" fill="#ff0000"/>
<rect x="680" y="263" width="3" height="5" fill="#ff0000"/>
<rect x="681" y="264" width="1" height="3" fill="#ff4500"/>
<rect x="685" y="252" width="1" height="26" fill="#ff0000"/>
<rect x="684" y="260" width="3" height="4" fill="#ff0000"/>
<rect x="685" y="261" width="1" height="2" fill="#ff4500"/>
<rect x="689" y="248" width="1" height="48" fill="#32cd32"/>
<rect x="688" y="260" width="3" height="29" fill="#32cd32"/>
<rect x="693" y="284" width="1" height="8" fill="#ff0000"/>
<rect x="692" y="287" width="3" height="3" fill="#ff0000"/>
<rect x="693" y="288" width="1" height="1" fill="#ff4500"/>
<rect x="697" y="272" width="1" height="15" fill="#ff0000"/>
<rect x="696" y="276" width="3" height="9" fill="#ff0000"/>
<rect x="697" y="277" width="1" height="7" fill="#ff4500"/>
<rect x="701" y="259" width="1" height="18" fill="#ff0000"/>
<rect x="700" y="261" width="3" height="15" fill="#ff0000"/>
<rect x="701" y="262" width="1" height="13" fill="#ff4500"/>
<rect x="705" y="256" width="1" height="14" fill="#32cd32"/>
<rect x="704" y="262" width="3" height="4" fill="#32cd32"/>
<rect x="709" y="218" width="1" height="48" fill="#ff0000"/>
<rect x="708" y="243" width="3" height="23" fill="#ff0000"/>
<rect x="709" y="244" width="1" height="21" fill="#ff4500"/>
<rect x="713" y="187" width="1" height="66" fill="#ff0000"/>
<rect x="712" y="231" width="3" height="13" fill="#ff0000"/>
<rect x="713" y="232" width="1" height="11" fill="#ff4500"/>
<rect x="717" y="229" width="1" height="18" fill="#32cd32"/>
<rect x="716" y="231" width="3" height="12" fill="#32cd32"/>
<rect x="721" y="216" width="1" height="25" fill="#ff0000"/>
<rect x="720" y="230" width="3" height="6" fill="#ff0000"/>
<rect x="721" y="231" width="1" height="4" fill="#ff4500"/>
<rect x="725" y="205" width="1" height="31" fill="#ff0000"/>
<rect x="724" y="217" width="3" height="14" fill="#ff0000"/>
<rect x="725" y="218" width="1" height="12" fill="#ff4500"/>
<rect x="729" y="216" width="1" height="33" fill="#32cd32"/>
<rect x="728" y="217" width="3" height="22" fill="#32cd32"/>
<rect x="733" y="225" width="1" height="26" fill="#32cd32"/>
<rect x="732" y="238" width="3" height="7" fill="#32cd32"/>
<rect x="737" y="234" width="1" height="33" fill="#32cd32"/>
<rect x="736" y="244" width="3" height="21" fill="#32cd32"/>
<rect x="741" y="263" width="1" height="15" fill="#32cd32"/>
<rect x="740" y="264" width="3" height="13" fill="#32cd32"/>
<rect x="745" y="258" width="1" height="18" fill="#ff0000"/>
<rect x="744" y="263" width="3" height="7" fill="#ff0000"/>
<rect x="745" y="264" width="1" height="5" fill="#ff4500"/>
<rect x="749" y="258" width="1" height="19" fill="#ff0000"/>
<rect x="748" y="261" width="3" height="3" fill="#ff0000"/>
<rect x="749" y="262" width="1" height="1" fill="#ff4500"/>
<rect x="753" y="259" width="1" height="10" fill="#32cd32"/>
<rect x="752" y="261" width="3" height="5" fill="#32cd32"/>
<rect x="757" y="255" width="1" height="13" fill="#ff0000"/>
<rect x="756" y="258" width="3" height="4" fill="#ff0000"/>
<rect x="757" y="259" width="1" height="2" fill="#ff4500"/>
<rect x="761" y="202" width="1" height="58" fill="#ff0000"/>
<rect x="760" y="213" width="3" height="43" fill="#ff0000"/>
<rect x="761" y="214" width="1" height="41" fill="#ff4500"/>
<rect x="765" y="198" width="1" height="18" fill="#ff0000"/>
<rect x="764" y="198" width="3" height="15" fill="#ff0000"/>
<rect x="765" y="199" width="1" height="13" fill="#ff4500"/>
<rect x="769" y="180" width="1" height="24" fill="#ff0000"/>
<rect x="768" y="187" width="3" height="17" fill="#ff0000"/>
<rect x="769" y="188" width="1" height="15" fill="#ff4500"/>
<rect x="773" y="161" width="1" height="30" fill="#ff0000"/>
<rect x="772" y="172" width="3" height="15" fill="#ff0000"/>
<rect x="773" y="173" width="1" height="13" fill="#ff4500"/>
<rect x="777" y="167" width="1" height="12" fill="#32cd32"/>
<rect x="776" y="172" width="3" height="5" fill="#32cd32"/>
<rect x="781" y="171" width="1" height="38" fill="#32cd32"/>
<rect x="780" y="178" width="3" height="10" fill="#32cd32"/>
<rect x="785" y="186" width="1" height="53" fill="#32cd32"/>
<rect x="784" y="187" width="3" height="26" fill="#32cd32"/>
<rect x="789" y="201" width="1" height="13" fill="#ff0000"/>
<rect x="788" y="210" width="3" height="3" fill="#ff0000"/>
<rect x="789" y="211" width="1" height="1" fill="#ff4500"/>
<rect x="793" y="184" width="1" height="33" fill="#ff0000"/>
<rect x="792" y="195" width="3" height="21" fill="#ff0000"/>
<rect x="793" y="196" width="1" height="19" fill="#ff4500"/>
<rect x="797" y="189" width="1" height="44" fill="#32cd32"/>
<rect x="796" y="195" width="3" height="31" fill="#32cd32"/>
<rect x="801" y="210" width="1" height="38" fill="#32cd32"/>
<rect x="800" y="226" width="3" height="17" fill="#32cd32"/>
<rect x="805" y="237" width="1" height="23" fill="#32cd32"/>
<rect x="804" y="241" width="3" height="14" fill="#32cd32"/>
<rect x="809" y="243" width="1" height="23" fill="#ff0000"/>
<rect x="808" y="246" width="3" height="9" fill="#ff0000"/>
<rect x="809" y="247" width="1" height="7" fill="#ff4500"/>
<rect x="813" y="235" width="1" height="13" fill="#ff0000"/>
<rect x="812" y="240" width="3" height="7" fill="#ff0000"/>
<rect x="813" y="241" width="1" height="5" fill="#ff4500"/>
<rect x="817" y="229" width="1" height="18" fill="#ff0000"/>
<rect x="816" y="233" width="3" height="12" fill="#ff0000"/>
<rect x="817" y="234" width="1" height="10" fill="#ff4500"/>
<rect x="821" y="223" width="1" height="30" fill="#32cd32"/>
<rect x="820" y="233" width="3" height="8" fill="#32cd32"/>
<rect x="825" y="212" width="1" height="31" fill="#ff0000"/>
<rect x="824" y="220" width="3" height="21" fill="#ff0000"/>
<rect x="825" y="221" width="1" height="19" fill="#ff4500"/>
<rect x="829" y="206" width="1" height="29" fill="#32cd32"/>
<rect x="828" y="220" width="3" height="8" fill="#32cd32"/>
<rect x="833" y="226" width="1" height="39" fill="#32cd32"/>
<rect x="832" y="227" width="3" height="33" fill="#32cd32"/>
<rect x="837" y="257" width="1" height="7" fill="#32cd32"/>
<rect x="836" y="259" width="3" height="1" fill="#32cd32"/>
<rect x="841" y="254" width="1" height="17" fill="#32cd32"/>
<rect x="840" y="261" width="3" height="6" fill="#32cd32"/>
<rect x="845" y="243" width="1" height="26" fill="#ff0000"/>
<rect x="844" y="255" width="3" height="12" fill="#ff0000"/>
<rect x="845" y="256" width="1" height="10" fill="#ff4500"/>
<rect x="849" y="254" width="1" height="22" fill="#32cd32"/>
<rect x="848" y="256" width="3" height="16" fill="#32cd32"/>
<rect x="853" y="249" width="1" height="47" fill="#32cd32"/>
<rect x="852" y="271" width="3" height="21" fill="#32cd32"/>
<rect x="857" y="281" width="1" height="26" fill="#32cd32"/>
<rect x="856" y="291" width="3" height="15" fill="#32cd32"/>
<rect x="861" y="301" width="1" height="8" fill="#ff0000"/>
<rect x="860" y="302" width="3" height="4" fill="#ff0000"/>
<rect x="861" y="303" width="1" height="2" fill="#ff4500"/>
<rect x="865" y="297" width="1" height="18" fill="#32cd32"/>
<rect x="864" y="302" width="3" height="13" fill="#32cd32"/>
<rect x="869" y="305" width="1" height="19" fill="#32cd32"/>
<rect x="868" y="313" width="3" height="10" fill="#32cd32"/>
<rect x="873" y="303" width="1" height="25" fill="#32cd32"/>
<rect x="872" y="322" width="3" height="1" fill="#32cd32"/>
<rect x="877" y="297" width="1" height="28" fill="#ff0000"/>
<rect x="876" y="298" width="3" height="26" fill="#ff0000"/>
<rect x="877" y="299" width="1" height="24" fill="#ff4500"/>
<rect x="881" y="266" width="1" height="46" fill="#ff0000"/>
<rect x="880" y="267" width="3" height="32" fill="#ff0000"/>
<rect x="881" y="268" width="1" height="30" fill="#ff4500"/>
<rect x="885" y="261" width="1" height="12" fill="#ff0000"/>
<rect x="884" y="262" width="3" height="7" fill="#ff0000"/>
<rect x="885" y="263" width="1" height="5" fill="#ff4500"/>
<rect x="889" y="261" width="1" height="36" fill="#32cd32"/>
<rect x="888" y="266" width="3" height="20" fill="#32cd32"/>
<rect x="893" y="277" width="1" height="23" fill="#32cd32"/>
<rect x="892" y="284" width="3" height="13" fill="#32cd32"/>
<rect x="897" y="290" width="1" height="35" fill="#32cd32"/>
<rect x="896" y="295" width="3" height="26" fill="#32cd32"/>
<rect x="901" y="313" width="1" height="34" fill="#32cd32"/>
<rect x="900" y="319" width="3" height="20" fill="#32cd32"/>
<rect x="905" y="332" width="1" height="26" fill="#32cd32"/>
<rect x="904" y="338" width="3" height="10" fill="#32cd32"/>
<rect x="909" y="345" width="1" height="17" fill="#32cd32"/>
<rect x="908" y="347" width="3" height="12" fill="#32cd32"/>
<rect x="913" y="350" width="1" height="27" fill="#32cd32"/>
<rect x="912" y="359" width="3" height="15" fill="#32cd32"/>
<rect x="917" y="372" width="1" height="24" fill="#32cd32"/>
<rect x="916" y="373" width="3" height="6" fill="#32cd32"/>
<rect x="921" y="372" width="1" height="28" fill="#32cd32"/>
<rect x="920" y="378" width="3" height="16" fill="#32cd32"/>
<rect x="925" y="391" width="1" height="22" fill="#32cd32"/>
<rect x="924" y="393" width="3" height="16" fill="#32cd32"/>
</g>
<rect x="4" y="126" width="6" height="6" fill="#ff0000"/>
<rect x="6" y="128" width="2" height="2" fill="#fff"/>
<rect x="1161" y="126" width="6" height="6" fill="#ff0000"/>
<rect x="1163" y="128" width="2" height="2" fill="#fff"/>
<rect x="4" y="184" width="6" height="6" fill="#ff0000"/>
<rect x="6" y="186" width="2" height="2" fill="#fff"/>
<rect x="1161" y="184" width="6" height="6" fill="#ff0000"/>
<rect x="1163" y="186" width="2" height="2" fill="#fff"/>
<rect x="4" y="318" width="6" height="6" fill="#0000ff"/>
<rect x="6" y="320" width="2" height="2" fill="#fff"/>
<rect x="1161" y="318" width="6" height="6" fill="#0000ff"/>
<rect x="1163" y="320" width="2" height="2" fill="#fff"/>
<rect x="4" y="397" width="6" height="6" fill="#0000ff"/>
<rect x="6" y="399" width="2" height="2" fill="#fff"/>
<rect x="1161" y="397" width="6" height="6" fill="#0000ff"/>
<rect x="1163" y="399" width="2" height="2" fill="#fff"/>
<rect x="4" y="455" width="3" height="12" fill="#c0c0c0"/>
<rect x="8" y="455" width="3" height="12" fill="#c0c0c0"/>
<rect x="12" y="455" width="3" height="12" fill="#c0c0c0"/>
<rect x="16" y="455" width="3" height="10" fill="#c0c0c0"/>
<rect x="20" y="455" width="3" height="9" fill="#c0c0c0"/>
<rect x="24" y="455" width="3" height="9" fill="#c0c0c0"/>
<rect x="28" y="455" width="3" height="9" fill="#c0c0c0"/>
<rect x="32" y="455" width="3" height="10" fill="#c0c0c0"/>
<rect x="36" y="455" width="3" height="11" fill="#c0c0c0"/>
<rect x="40" y="455" width="3" height="12" fill="#c0c0c0"/>
<rect x="44" y="455" width="3" height="11" fill="#c0c0c0"/>
<rect x="48" y="455" width="3" height="9" fill="#c0c0c0"/>
<rect x="52" y="455" width="3" height="4" fill="#c0c0c0"/>
<rect x="56" y="455" width="3" height="1" fill="#c0c0c0"/>
<rect x="60" y="450" width="3" height="5" fill="#c0c0c0"/>
<rect x="64" y="445" width="3" height="10" fill="#c0c0c0"/>
<rect x="68" y="440" width="3" height="15" fill="#c0c0c0"/>
<rect x="72" y="437" width="3" height="18" fill="#c0c0c0"/>
<rect x="76" y="435" width="3" height="20" fill="#c0c0c0"/>
<rect x="80" y="435" width="3" height="20" fill="#c0c0c0"/>
<rect x="84" y="436" width="3" height="19" fill="#c0c0c0"/>
<rect x="88" y="440" width="3" height="15" fill="#c0c0c0"/>
<rect x="92" y="444" width="3" height="11" fill="#c0c0c0"/>
<rect x="96" y="446" width="3" height="9" fill="#c0c0c0"/>
<rect x="100" y="450" width="3" height="5" fill="#c0c0c0"/>
<rect x="104" y="452" width="3" height="3" fill="#c0c0c0"/>
<rect x="108" y="450" width="3" height="5" fill="#c0c0c0"/>
<rect x="112" y="446" width="3" height="9" fill="#c0c0c0"/>
<rect x="116" y="441" width="3" height="14" fill="#c0c0c0"/>
<rect x="120" y="436" width="3" height="19" fill="#c0c0c0"/>
<rect x="124" y="434" width="3" height="21" fill="#c0c0c0"/>
<rect x="128" y="432" width="3" height="23" fill="#c0c0c0"/>
<rect x="132" y="431" width="3" height="24" fill="#c0c0c0"/>
<rect x="136" y="429" width="3" height="26" fill="#c0c0c0"/>
<rect x="140" y="429" width="3" height="26" fill="#c0c0c0"/>
<rect x="144" y="431" width="3" height="24" fill="#c0c0c0"/>
<rect x="148" y="435" width="3" height="20" fill="#c0c0c0"/>
<rect x="152" y="440" width="3" height="15" fill="#c0c0c0"/>
<rect x="156" y="443" width="3" height="12" fill="#c0c0c0"/>
<rect x="160" y="449" width="3" height="6" fill="#c0c0c0"/>
<rect x="164" y="454" width="3" height="1" fill="#c0c0c0"/>
<rect x="168" y="455" width="3" height="4" fill="#c0c0c0"/>
<rect x="172" y="455" width="3" height="7" fill="#c0c0c0"/>
<rect x="176" y="455" width="3" height="7" fill="#c0c0c0"/>
<rect x="180" y="455" width="3" height="7" fill="#c0c0c0"/>
<rect x="184" y="455" width="3" height="7" fill="#c0c0c0"/>
<rect x="188" y="455" width="3" height="6" fill="#c0c0c0"/>
<rect x="192" y="455" width="3" height="5" fill="#c0c0c0"/>
<rect x="196" y="455" width="3" height="9" fill="#c0c0c0"/>
<rect x="200" y="455" width="3" height="9" fill="#c0c0c0"/>
<rect x="204" y="455" width="3" height="10" fill="#c0c0c0"/>
<rect x="208" y="455" width="3" height="11" fill="#c0c0c0"/>
<rect x="212" y="455" width="3" height="11" fill="#c0c0c0"/>
<rect x="216" y="455" width="3" height="12" fill="#c0c0c0"/>
<rect x="220" y="455" width="3" height="15" fill="#c0c0c0"/>
<rect x="224" y="455" width="3" height="18" fill="#c0c0c0"/>
<rect x="228" y="455" width="3" height="20" fill="#c0c0c0"/>
<rect x="232" y="455" width="3" height="23" fill="#c0c0c0"/>
<rect x="236" y="455" width="3" height="25" fill="#c0c0c0"/>
<rect x="240" y="455" width="3" height="25" fill="#c0c0c0"/>
<rect x="244" y="455" width="3" height="24" fill="#c0c0c0"/>
<rect x="248" y="455" width="3" height="25" fill="#c0c0c0"/>
<rect x="252" y="455" width="3" height="28" fill="#c0c0c0"/>
<rect x="256" y="455" width="3" height="28" fill="#c0c0c0"/>
<rect x="260" y="455" width="3" height="28" fill="#c0c0c0"/>
<rect x="264" y="455" width="3" height="23" fill="#c0c0c0"/>
<rect x="268" y="455" width="3" height="19" fill="#c0c0c0"/>
<rect x="272" y="455" width="3" height="13" fill="#c0c0c0"/>
<rect x="276" y="455" width="3" height="10" fill="#c0c0c0"/>
<rect x="280" y="455" width="3" height="7" fill="#c0c0c0"/>
<rect x="284" y="455" width="3" height="5" fill="#c0c0c0"/>
<rect x="288" y="455" width="3" height="4" fill="#c0c0c0"/>
<rect x="292" y="455" width="3" height="4" fill="#c0c0c0"/>
<rect x="296" y="455" width="3" height="6" fill="#c0c0c0"/>
<rect x="300" y="455" width="3" height="10" fill="#c0c0c0"/>
<rect x="304" y="455" width="3" height="13" fill="#c0c0c0"/>
<rect x="308" y="455" width="3" height="15" fill="#c0c0c0"/>
<rect x="312" y="455" width="3" height="17" fill="#c0c0c0"/>
<rect x="316" y="455" width="3" height="18" fill="#c0c0c0"/>
<rect x="320" y="455" width="3" height="19" fill="#c0c0c0"/>
<rect x="324" y="455" width="3" height="20" fill="#c0c0c0"/>
<rect x="328" y="455" width="3" height="16" fill="#c0c0c0"/>
<rect x="332" y="455" width="3" height="15" fill="#c0c0c0"/>
<rect x="336" y="455" width="3" height="16" fill="#c0c0c0"/>
<rect x="340" y="455" width="3" height="17" fill="#c0c0c0"/>
<rect x="344" y="455" width="3" height="17" fill="#c0c0c0"/>
<rect x="348" y="455" width="3" height="18" fill="#c0c0c0"/>
<rect x="352" y="455" width="3" height="23" fill="#c0c0c0"/>
<rect x="356" y="455" width="3" height="27" fill="#c0c0c0"/>
<rect x="360" y="455" width="3" height="30" fill="#c0c0c0"/>
<rect x="364" y="455" width="3" height="33" fill="#c0c0c0"/>
<rect x="368" y="455" width="3" height="31" fill="#c0c0c0"/>
<rect x="372" y="455" width="3" height="29" fill="#c0c0c0"/>
<rect x="376" y="455" width="3" height="27" fill="#c0c0c0"/>
<rect x="380" y="455" width="3" height="26" fill="#c0c0c0"/>
<rect x="384" y="455" width="3" height="23" fill="#c0c0c0"/>
<rect x="388" y="455" width="3" height="21" fill="#c0c0c0"/>
<rect x="392" y="455" width="3" height="22" fill="#c0c0c0"/>
<rect x="396" y="455" width="3" height="17" fill="#c0c0c0"/>
<rect x="400" y="455" width="3" height="15" fill="#c0c0c0"/>
<rect x="404" y="455" width="3" height="14" fill="#c0c0c0"/>
<rect x="408" y="455" width="3" height="15" fill="#c0c0c0"/>
<rect x="412" y="455" width="3" height="12" fill="#c0c0c0"/>
<rect x="416" y="455" width="3" height="11" fill="#c0c0c0"/>
<rect x="420" y="455" width="3" height="10" fill="#c0c0c0"/>
<rect x="424" y="455" width="3" height="12" fill="#c0c0c0"/>
<rect x="428" y="455" width="3" height="13" fill="#c0c0c0"/>
<rect x="432" y="455" width="3" height="14" fill="#c0c0c0"/>
<rect x="436" y="455" width="3" height="15" fill="#c0c0c0"/>
<rect x="440" y="455" width="3" height="18" fill="#c0c0c0"/>
<rect x="444" y="455" width="3" height="20" fill="#c0c0c0"/>
<rect x="448" y="455" width="3" height="21" fill="#c0c0c0"/>
<rect x="452" y="455" width="3" height="23" fill="#c0c0c0"/>
<rect x="456" y="455" width="3" height="26" fill="#c0c0c0"/>
<rect x="460" y="455" width="3" height="26" fill="#c0c0c0"/>
<rect x="464" y="455" width="3" height="25" fill="#c0c0c0"/>
<rect x="468" y="455" width="3" height="23" fill="#c0c0c0"/>
<rect x="472" y="455" width="3" height="20" fill="#c0c0c0"/>
<rect x="476" y="455" width="3" height="18" fill="#c0c0c0"/>
<rect x="480" y="455" width="3" height="16" fill="#c0c0c0"/>
<rect x="484" y="455" width="3" height="16" fill="#c0c0c0"/>
<rect x="488" y="455" width="3" height="15" fill="#c0c0c0"/>
<rect x="492" y="455" width="3" height="11" fill="#c0c0c0"/>
<rect x="496" y="455" width="3" height="7" fill="#c0c0c0"/>
<rect x="500" y="455" width="3" height="4" fill="#c0c0c0"/>
<rect x="504" y="455" width="3" height="2" fill="#c0c0c0"/>
<rect x="508" y="454" width="3" height="1" fill="#c0c0c0"/>
<rect x="512" y="452" width="3" height="3" fill="#c0c0c0"/>
<rect x="516" y="445" width="3" height="10" fill="#c0c0c0"/>
<rect x="520" y="440" width="3" height="15" fill="#c0c0c0"/>
<rect x="524" y="435" width="3" height="20" fill="#c0c0c0"/>
<rect x="528" y="433" width="3" height="22" fill="#c0c0c0"/>
<rect x="532" y="432" width="3" height="23" fill="#c0c0c0"/>
<rect x="536" y="432" width="3" height="23" fill="#c0c0c0"/>
<rect x="540" y="434" width="3" height="21" fill="#c0c0c0"/>
<rect x="544" y="436" width="3" height="19" fill="#c0c0c0"/>
<rect x="548" y="438" width="3" height="17" fill="#c0c0c0"/>
<rect x="552" y="439" width="3" height="16" fill="#c0c0c0"/>
<rect x="556" y="439" width="3" height="16" fill="#c0c0c0"/>
<rect x="560" y="439" width="3" height="16" fill="#c0c0c0"/>
<rect x="564" y="437" width="3" height="18" fill="#c0c0c0"/>
<rect x="568" y="435" width="3" height="20" fill="#c0c0c0"/>
<rect x="572" y="435" width="3" height="20" fill="#c0c0c0"/>
<rect x="576" y="435" width="3" height="20" fill="#c0c0c0"/>
<rect x="580" y="439" width="3" height="16" fill="#c0c0c0"/>
<rect x="584" y="443" width="3" height="12" fill="#c0c0c0"/>
<rect x="588" y="447" width="3" height="8" fill="#c0c0c0"/>
<rect x="592" y="452" width="3" height="3" fill="#c0c0c0"/>
<rect x="596" y="455" width="3" height="2" fill="#c0c0c0"/>
<rect x="600" y="455" width="3" height="4" fill="#c0c0c0"/>
<rect x="604" y="455" width="3" height="7" fill="#c0c0c0"/>
<rect x="608" y="455" width="3" height="9" fill="#c0c0c0"/>
<rect x="612" y="455" width="3" height="11" fill="#c0c0c0"/>
<rect x="616" y="455" width="3" height="11" fill="#c0c0c0"/>
<rect x="620" y="455" width="3" height="9" fill="#c0c0c0"/>
<rect x="624" y="455" width="3" height="6" fill="#c0c0c0"/>
<rect x="628" y="455" width="3" height="6" fill="#c0c0c0"/>
<rect x="632" y="455" width="3" height="5" fill="#c0c0c0"/>
<rect x="636" y="455" width="3" height="4" fill="#c0c0c0"/>
<rect x="640" y="455" width="3" height="5" fill="#c0c0c0"/>
<rect x="644" y="455" width="3" height="6" fill="#c0c0c0"/>
<rect x="648" y="455" width="3" height="8" fill="#c0c0c0"/>
<rect x="652" y="455" width="3" height="9" fill="#c0c0c0"/>
<rect x="656" y="455" width="3" height="11" fill="#c0c0c0"/>
<rect x="660" y="455" width="3" height="12" fill="#c0c0c0"/>
<rect x="664" y="455" width="3" height="11" fill="#c0c0c0"/>
<rect x="668" y="455" width="3" height="11" fill="#c0c0c0"/>
<rect x="672" y="455" width="3" height="9" fill="#c0c0c0"/>
<rect x="676" y="455" width="3" height="5" fill="#c0c0c0"/>
<rect x="680" y="455" width="3" height="2" fill="#c0c0c0"/>
<rect x="684" y="454" width="3" height="1" fill="#c0c0c0"/>
<rect x="688" y="454" width="3" height="1" fill="#c0c0c0"/>
<rect x="692" y="454" width="3" height="1" fill="#c0c0c0"/>
<rect x="696" y="454" width="3" height="1" fill="#c0c0c0"/>
<rect x="700" y="452" width="3" height="3" fill="#c0c0c0"/>
<rect x="704" y="451" width="3" height="4" fill="#c0c0c0"/>
<rect x="708" y="449" width="3" height="6" fill="#c0c0c0"/>
<rect x="712" y="446" width="3" height="9" fill="#c0c0c0"/>
<rect x="716" y="445" width="3" height="10" fill="#c0c0c0"/>
<rect x="720" y="443" width="3" height="12" fill="#c0c0c0"/>
<rect x="724" y="441" width="3" height="14" fill="#c0c0c0"/>
<rect x="728" y="441" width="3" height="14" fill="#c0c0c0"/>
<rect x="732" y="442" width="3" height="13" fill="#c0c0c0"/>
<rect x="736" y="445" width="3" height="10" fill="#c0c0c0"/>
<rect x="740" y="447" width="3" height="8" fill="#c0c0c0"/>
<rect x="744" y="448" width="3" height="7" fill="#c0c0c0"/>
<rect x="748" y="449" width="3" height="6" fill="#c0c0c0"/>
<rect x="752" y="450" width="3" height="5" fill="#c0c0c0"/>
<rect x="756" y="450" width="3" height="5" fill="#c0c0c0"/>
<rect x="760" y="447" width="3" height="8" fill="#c0c0c0"/>
<rect x="764" y="444" width="3" height="11" fill="#c0c0c0"/>
<rect x="768" y="440" width="3" height="15" fill="#c0c0c0"/>
<rect x="772" y="437" width="3" height="18" fill="#c0c0c0"/>
<rect x="776" y="434" width="3" height="21" fill="#c0c0c0"/>
<rect x="780" y="434" width="3" height="21" fill="#c0c0c0"/>
<rect x="784" y="435" width="3" height="20" fill="#c0c0c0"/>
<rect x="788" y="437" width="3" height="18" fill="#c0c0c0"/>
<rect x="792" y="437" width="3" height="18" fill="#c0c0c0"/>
<rect x="796" y="439" width="3" height="16" fill="#c0c0c0"/>
<rect x="800" y="443" width="3" height="12" fill="#c0c0c0"/>
<rect x="804" y="447" width="3" height="8" fill="#c0c0c0"/>
<rect x="808" y="449" width="3" height="6" fill="#c0c0c0"/>
<rect x="812" y="451" width="3" height="4" fill="#c0c0c0"/>
<rect x="816" y="451" width="3" height="4" fill="#c0c0c0"/>
<rect x="820" y="453" width="3" height="2" fill="#c0c0c0"/>
<rect x="824" y="452" width="3" height="3" fill="#c0c0c0"/>
<rect x="828" y="452" width="3" height="3" fill="#c0c0c0"/>
<rect x="832" y="455" width="3" height="1" fill="#c0c0c0"/>
<rect x="836" y="455" width="3" height="3" fill="#c0c0c0"/>
<rect x="840" y="455" width="3" height="5" fill="#c0c0c0"/>
<rect x="844" y="455" width="3" height="6" fill="#c0c0c0"/>
<rect x="848" y="455" width="3" height="7" fill="#c0c0c0"/>
<rect x="852" y="455" width="3" height="10" fill="#c0c0c0"/>
<rect x="856" y="455" width="3" height="14" fill="#c0c0c0"/>
<rect x="860" y="455" width="3" height="16" fill="#c0c0c0"/>
<rect x="864" y="455" width="3" height="18" fill="#c0c0c0"/>
<rect x="868" y="455" width="3" height="20" fill="#c0c0c0"/>
<rect x="872" y="455" width="3" height="22" fill="#c0c0c0"/>
<rect x="876" y="455" width="3" height="21" fill="#c0c0c0"/>
<rect x="880" y="455" width="3" height="18" fill="#c0c0c0"/>
<rect x="884" y="455" width="3" height="15" fill="#c0c0c0"/>
<rect x="888" y="455" width="3" height="14" fill="#c0c0c0"/>
<rect x="892" y="455" width="3" height="14" fill="#c0c0c0"/>
<rect x="896" y="455" width="3" height="16" fill="#c0c0c0"/>
<rect x="900" y="455" width="3" height="17" fill="#c0c0c0"/>
<rect x="904" y="455" width="3" height="21" fill="#c0c0c0"/>
<rect x="908" y="455" width="3" height="24" fill="#c0c0c0"/>
<rect x="912" y="455" width="3" height="26" fill="#c0c0c0"/>
<rect x="916" y="455" width="3" height="29" fill="#c0c0c0"/>
<rect x="920" y="455" width="3" height="32" fill="#c0c0c0"/>
<rect x="924" y="455" width="3" height="34" fill="#c0c0c0"/>
<polyline points="5,462.3 12,462.3 17,464.3 26,464.3 36,464.7 50,464.1 58,462.3 64,459.7 70,456.2 75.5,451.4 81.5,445.8 87.4,441.9 91.4,440.5 97.4,440.3 102.3,440.5 107.3,442.5 113.3,444.3 119.2,445.4 124.2,444.5 131.1,441.9 137.1,438.9 143.1,436.3 151,434.9 157,434.5 162,434.9 165.9,437.9 170.9,441.9 176.8,447.8 181.8,452.2 186.8,455.4 191.7,458.2 196.7,459.7 202.7,461.7 208.6,462.3 214.6,462.7 220.5,464.3 226.5,465.7 230,467.3 236,469.7 242,472.7 247.9,475.2 253.8,477.6 259.8,479.2 265.8,479.6 270.7,479.2 275.7,476.6 281.7,474.1 287.6,470.7 293.6,466.7 299.5,463.3 304.5,462.3 310.5,462.3 315.4,463.7 321.4,466.7 327.4,469.3 333.3,470.3 341.3,471.3 349.2,471.3 355.2,471.7 361.1,474.1 367.1,476 373.1,479 379,481 385,482.2 390.9,481.6 394.9,481.2 400.9,478.6 406.8,475.2 412.8,472.7 418.8,470.7 423.7,468.7 428.7,467.7 434.6,467.7 442.6,467.7 448.6,469.1 454.5,470.7 460.5,473.7 466,475.6 472.9,477.2 478.9,476.6 485.8,475 492.8,473.3 499.7,468.7 506.7,464.7 513.6,461.3 519.6,456.8 525.6,451.4 531.5,445.8 537.5,441.9 543.5,438.9 549.4,436.3 554.4,435.5 559.3,435.9 565.3,436.5 573.3,437.3 581.2,437.5 587.2,438.5 593.1,440.3 599.1,442.9 605,446.8 610,450.8 615,455.4 618.9,457.8 623.9,459.7 628.9,461.3 633.9,462.3 638.8,461.7 646.8,461.3 654.7,461.3 662.7,461.7 668.6,462.3 674.6,463.3 680.5,463.1 686.5,461.7 692.5,460.1 696,458.8 701.9,456.2 707.9,454.2 713.8,452.8 719.8,450.8 725.8,448.8 731.7,446.2 737.7,444.8 742.7,444.3 747.6,444.5 753.6,445.4 759.5,446.8 765.5,447.4 770.5,447.2 775.4,445.8 781.4,442.9 787.4,440.3 793.3,438.3 798.3,437.3 803.3,437.3 809.2,439.3 815.2,441.9 821.1,444.8 827.1,447.8 833.1,450.2 839,452.4 845,453.8 850.9,455.4 856.9,458.8 862.9,461.7 868.8,464.7 874.8,467.7 879.7,469.7 884.7,470.7 888.7,472.1 896.6,472.7 904.6,472.7 913.5,472.7 918.5,474.7 924.5,477.6" fill="none" stroke="#ff0000" stroke-width="1"/>
<line x1="6" y1="520.5" x2="1167" y2="520.5" stroke="#c0c0c0" stroke-width="1" stroke-dasharray="3 3"/>
<line x1="6" y1="553.5" x2="1167" y2="553.5" stroke="#c0c0c0" stroke-width="1" stroke-dasharray="3 3"/>
<polyline points="5,545.3 9,545.3 12.9,542.7 16.9,537.7 20.9,534.7 24.8,538.1 28.8,540.1 32.8,547.2 36.8,546.7 40.7,543.7 44.7,540.1 48.7,534.7 52.7,529.8 56.6,528.2 60.6,522.8 64.6,519.4 68.5,518.2 73.5,524.2 77.5,523.2 81.5,524.2 85.4,531.8 89.4,539.3 93.4,541.3 97.4,537.3 101.3,541.3 105.3,539.3 109.3,531.8 113.3,527.4 117.2,523.8 121.2,522.4 125.2,523.4 130.1,523.4 134.1,525.4 141.1,525.4 145,534.7 149,536.1 153,539.3 157,538.7 160.9,546.7 164.9,545.3 168.9,546.3 172.9,546.3 176.8,538.7 180.8,538.3 184.8,539.3 189.7,536.3 193.7,538.1 197.7,544.1 201.7,541.3 206.6,542.3 210.6,542.3 214.6,543.3 217.6,543.3 221.5,550.2 225.5,552.2 229.5,549.6 234,552.2 237.9,551.2 241.9,548 245.9,547.2 249.9,549.2 253.4,555.2 257.8,546.3 261.8,546.1 265.4,535.7 269.7,535.3 273.7,531.4 277.7,534.1 281.7,533.3 285.6,535.3 289.6,534.3 293.6,538.1 297.6,542.1 301.5,546.1 305.5,547.2 309.5,546.3 313.4,547.2 317.4,547.2 321.4,546.3 325.4,547.2 329.3,537.7 333.3,537.3 337.3,542.1 341.3,543.7 345.2,545.1 349.2,547.6 353.2,554 357.2,555.2 361.1,556.2 365.1,556.2 369.1,545.3 373.1,543.3 377,542.3 381,544.1 385,539.3 389,541.3 392.9,546.3 396.9,536.7 400.9,536.1 404.8,537.3 408.8,544.3 412.8,537.3 416.8,537.1 420.7,538.7 424.7,543.3 428.7,541.3 432.7,544.3 436.6,543.3 440.6,547.2 444.6,548.2 448.6,548.2 453.5,548.2 457.5,551.2 461.5,547.5 465,544.7 469.5,538.3 473.9,540.3 477.9,539.3 481.5,538.7 485.4,543.3 489.8,538.7 493.8,532.7 497.7,531.4 501.7,531.4 505.7,533.3 509.7,532.1 513.6,527.4 517.6,522.4 521.6,520.2 525.6,520.4 529.5,523.4 533.5,524.4 538.5,529.4 542.5,531.8 546.4,534.3 550.4,533.7 554.4,531.4 558.4,529.2 561.3,528.4 565.3,524.8 569.3,523.4 573.3,523.8 577.2,525.8 579.2,530.8 581.6,539.3 585.2,539.7 589.1,543.3 593.1,546.3 597.1,546.3 601.1,543.7 605,546.3 609,546.3 613,547.2 617,539.3 620.9,537.3 624.9,534.7 628.9,534.3 633.9,536.3 637.2,535.3 641.2,541.1 645.8,542.3 649.7,544.3 653.7,544.3 657.7,546.7 661.7,545.3 665.6,540.3 669.6,542.1 673.6,532.1 677.6,530.4 681.5,530.4 684.9,529.4 688.9,537.1 693.5,537.1 697.9,533.7 701.5,530.4 705.5,532.3 709.5,527.4 713.4,524.4 717.4,528.2 721.4,526.2 725.8,523.4 729.3,530.2 733.3,532.1 737.3,536.7 741.3,540.3 745.2,536.3 749.2,536.3 753.2,537.3 757.2,534.7 761.5,525.2 765.5,523.2 769.5,521.4 773.4,519.2 777.4,521.4 781.4,524.4 785.4,531.4 789.3,531.4 793.3,528.8 797.3,536.1 801.7,539.3 806.2,541.3 810.2,540.1 814.2,538.1 817.8,536.3 821.7,538.1 825.7,533.3 829.7,535.3 833.6,542.1 837.6,542.3 841.6,544.1 845.6,541.3 849.5,544.1 853.5,548 857.9,550.2 861.9,549.2 865.8,551.2 869.8,552.6 872.8,552.6 876.8,544.7 880.7,536.3 884.7,535.1 888.7,539.7 892.7,541.7 896.6,546.7 900.6,548.6 904.6,550.6 909.5,552.6 913.5,554.2 918.5,555.6 924.5,557.6" fill="none" stroke="#1e90ff" stroke-width="1"/>
<polygon points="7.5,36.5 14.5,36.5 11.5,32" fill="#000" shape-rendering="auto"/>
</svg>
<div class="abs" style="left:6px;top:43px;width:223px;height:68px;background:#fff;"></div>
<svg class="abs" style="left:0;top:0" width="240" height="120" viewBox="0 0 240 120">
<defs><linearGradient id="pg" gradientUnits="userSpaceOnUse" x1="0" y1="45" x2="0" y2="109">
<stop offset="0" stop-color="#5a5aff"/><stop offset="0.3" stop-color="#3a3aec"/><stop offset="0.62" stop-color="#1616c6"/><stop offset="1" stop-color="#0000a4"/></linearGradient>
<linearGradient id="bg" x1="0" y1="0" x2="0" y2="1"><stop offset="0" stop-color="#ececec"/><stop offset="0.5" stop-color="#dadada"/><stop offset="0.51" stop-color="#cecece"/><stop offset="1" stop-color="#c8c8c8"/></linearGradient></defs>
<g shape-rendering="crispEdges">
<rect x="8" y="45" width="219" height="64" fill="url(#pg)"/>
<rect x="8" y="45" width="1" height="64" fill="#1a1ab4" opacity="0.55"/>
<rect x="8" y="45" width="52" height="1" fill="#1a1ab4" opacity="0.45"/>
<rect x="175" y="45" width="52" height="1" fill="#1a1ab4" opacity="0.45"/>
<rect x="60" y="43" width="115" height="26" fill="#fff"/>
<rect x="117" y="69" width="2" height="42" fill="#fff"/>
<rect x="12" y="68" width="44" height="1" fill="#1212b0"/>
<rect x="179" y="68" width="44" height="1" fill="#1212b0"/>
<rect x="12" y="69" width="44" height="1" fill="#8c8cf4"/>
<rect x="179" y="69" width="44" height="1" fill="#8c8cf4"/>
<rect x="62.5" y="45.5" width="111" height="22" fill="#fff" stroke="#b0b0b0"/>
<rect x="64" y="47" width="19" height="19" fill="url(#bg)"/>
<rect x="83" y="47" width="1" height="19" fill="#b8b8b8"/>
<rect x="153" y="47" width="19" height="19" fill="url(#bg)"/>
<rect x="152" y="47" width="1" height="19" fill="#b8b8b8"/>
</g>
<polygon points="70,54.5 75,54.5 72.5,57.5" fill="#4c5cb4"/><polygon points="159,57.5 164,57.5 161.5,54.5" fill="#4c5cb4"/>
<g font-family="Liberation Sans, sans-serif" fill="#fff">
<text x="33.3" y="61" font-size="12" text-anchor="middle" transform="translate(33.3 0) scale(0.89 1) translate(-33.3 0)">SELL</text>
<text x="200.1" y="61" font-size="12" text-anchor="middle" transform="translate(200.1 0) scale(0.95 1) translate(-200.1 0)">BUY</text>
<text x="28.3" y="100" font-size="12" font-weight="bold" letter-spacing="0.1">1.08</text>
<text x="138.3" y="100" font-size="12" font-weight="bold" letter-spacing="0.1">1.08</text>
<text x="54.6" y="100" font-size="33.3" letter-spacing="-0.6" stroke="url(#pg)" stroke-width="0.3">71</text>
<text x="165.4" y="100" font-size="33.3" letter-spacing="-0.6" stroke="url(#pg)" stroke-width="0.3">73</text>
<text x="95.6" y="84" font-size="11" font-weight="bold">3</text>
<text x="205.8" y="84" font-size="11" font-weight="bold">0</text>
</g>
<text x="147.8" y="61" font-size="12" text-anchor="end" fill="#000" font-family="Liberation Sans, sans-serif" letter-spacing="-0.3">5.00</text>
</svg>

<div class="t tl" style="left:20px;top:28px;">EURUSD,Daily</div>
<div class="t" style="left:90.3px;top:28px;">1.08941</div>
<div class="t" style="left:126.8px;top:28px;">1.08967</div>
<div class="t" style="left:162.8px;top:28px;">1.08647</div>
<div class="t" style="left:199.0px;top:28px;">1.08713</div>
<div class="t" style="left:9.4px;top:428px;letter-spacing:0.5px;">MACD</div>
<div class="t" style="left:38.2px;top:428px;">(12,26,9)</div>
<div class="t" style="left:77.9px;top:428px;">-0.005109</div>
<div class="t" style="left:122.2px;top:428px;">-0.003453</div>
<div class="t" style="left:8.9px;top:498px;">RSI</div>
<div class="t" style="left:24.5px;top:498px;">(14)</div>
<div class="t" style="left:43.6px;top:498px;">23.5849</div>
<div class="t" style="left:1172.7px;top:51px;">1.13950</div>
<div class="t" style="left:1172.7px;top:84px;">1.13460</div>
<div class="t" style="left:1172.7px;top:117px;">1.12970</div>
<div class="t" style="left:1172.7px;top:150px;">1.12470</div>
<div class="t" style="left:1172.7px;top:183px;">1.11980</div>
<div class="t" style="left:1172.7px;top:216px;">1.11490</div>
<div class="t" style="left:1172.7px;top:249px;">1.11000</div>
<div class="t" style="left:1172.7px;top:282px;">1.10510</div>
<div class="t" style="left:1172.7px;top:315px;">1.10020</div>
<div class="t" style="left:1172.7px;top:348px;">1.09530</div>
<div class="t" style="left:1172.7px;top:381px;">1.09040</div>
<div class="t" style="left:1172.7px;top:414px;">1.08540</div>
<div class="t" style="left:1170.5px;top:426px;">0.004643</div>
<div class="t" style="left:1170.5px;top:450px;">0.00</div>
<div class="t" style="left:1170.5px;top:480px;">-0.005574</div>
<div class="t" style="left:1170.5px;top:496px;">100</div>
<div class="t" style="left:1170.5px;top:515px;">70</div>
<div class="t" style="left:1170.5px;top:548px;">30</div>
<div class="t" style="left:1170.5px;top:566px;">0</div>
<div class="pl" style="top:123px;background:#ff0000;"><span>1.12858</span></div>
<div class="pl" style="top:181px;background:#ff0000;"><span>1.12003</span></div>
<div class="pl" style="top:248px;background:#00ff00;"><span>1.11002</span></div>
<div class="pl" style="top:315px;background:#0000ff;"><span>1.10003</span></div>
<div class="pl" style="top:394px;background:#0000ff;"><span>1.08828</span></div>
<div class="pl" style="top:403px;background:#000000;"><span>1.08713</span></div>
<div class="t tl" style="left:4px;top:582px;">21 May 2019</div>
<div class="t tl" style="left:68px;top:582px;">8 Jun 2019</div>
<div class="t tl" style="left:132px;top:582px;">27 Jun 2019</div>
<div class="t tl" style="left:196px;top:582px;">16 Jul 2019</div>
<div class="t tl" style="left:260px;top:582px;">3 Aug 2019</div>
<div class="t tl" style="left:324px;top:582px;">22 Aug 2019</div>
<div class="t tl" style="left:388px;top:582px;">10 Sep 2019</div>
<div class="t tl" style="left:452px;top:582px;">28 Sep 2019</div>
<div class="t tl" style="left:516px;top:582px;">17 Oct 2019</div>
<div class="t tl" style="left:580px;top:582px;">5 Nov 2019</div>
<div class="t tl" style="left:644px;top:582px;">23 Nov 2019</div>
<div class="t tl" style="left:708px;top:582px;">12 Dec 2019</div>
<div class="t tl" style="left:772px;top:582px;">31 Dec 2019</div>
<div class="t tl" style="left:836px;top:582px;">18 Jan 2020</div>
<div class="t tl" style="left:900px;top:582px;">6 Feb 2020</div>
<div class="abs" style="left:0;top:599px;width:1208px;height:1px;background:#e8e8e8;"></div>
<div class="abs" style="left:0;top:600px;width:1208px;height:22px;background:#f0f0f0;"></div>
<div class="abs" style="left:0;top:601px;width:1208px;height:1px;background:#000;"></div>
<div class="abs" style="left:2px;top:602px;width:4px;height:20px;background:#e4e4e4;"></div>
<div class="abs" style="left:0;top:600px;width:1px;height:22px;background:#a0a0a0;"></div>
<div class="abs" style="left:1px;top:602px;width:1px;height:20px;background:#696969;"></div>
<div class="abs" style="left:6px;top:600px;width:102px;height:19px;background:#fff;border:1px solid #000;border-top:none;"></div>
<div class="abs" style="left:6px;top:620px;width:104px;height:2px;background:#fff;"></div>
<div class="tab" style="left:18px;color:#000;">EURUSD,Daily</div>
<div class="tab" style="left:121.5px;">AUDUSD,Daily</div>
<div class="tab" style="left:223.5px;">USDCHF,Daily</div>
<div class="tab" style="left:324.5px;">USDCAD,Daily</div>
<div class="tab" style="left:427.5px;">USDCNH,Daily</div>
<div class="tab" style="left:533px;">XAUUSD,Daily</div>
<div class="tab" style="left:635.5px;">DJ30,H4</div>
<div class="tab" style="left:705.5px;">USDOil,Daily</div>
<div class="tab" style="left:799.5px;">USDCHF,Daily</div>
<div class="tab" style="left:901.5px;">GBPUSD,Daily</div>
<div class="tab" style="left:1005.5px;">EURUSD,H1</div>
<div class="tab" style="left:1096.5px;">GBPAUD,H1</div>
<div class="sep" style="left:215px;"></div>
<div class="sep" style="left:314px;"></div>
<div class="sep" style="left:418px;"></div>
<div class="sep" style="left:522px;"></div>
<div class="sep" style="left:626px;"></div>
<div class="sep" style="left:695px;"></div>
<div class="sep" style="left:790px;"></div>
<div class="sep" style="left:891px;"></div>
<div class="sep" style="left:994px;"></div>
<div class="sep" style="left:1086px;"></div>
<svg class="abs" style="left:1170px;top:600px" width="38" height="22"><polygon points="16.5,6.5 16.5,14 12.5,10.25" fill="#a0a0a0"/><polygon points="31.5,6.5 31.5,14 35.5,10.25" fill="#000"/></svg>
</div></body></html>
